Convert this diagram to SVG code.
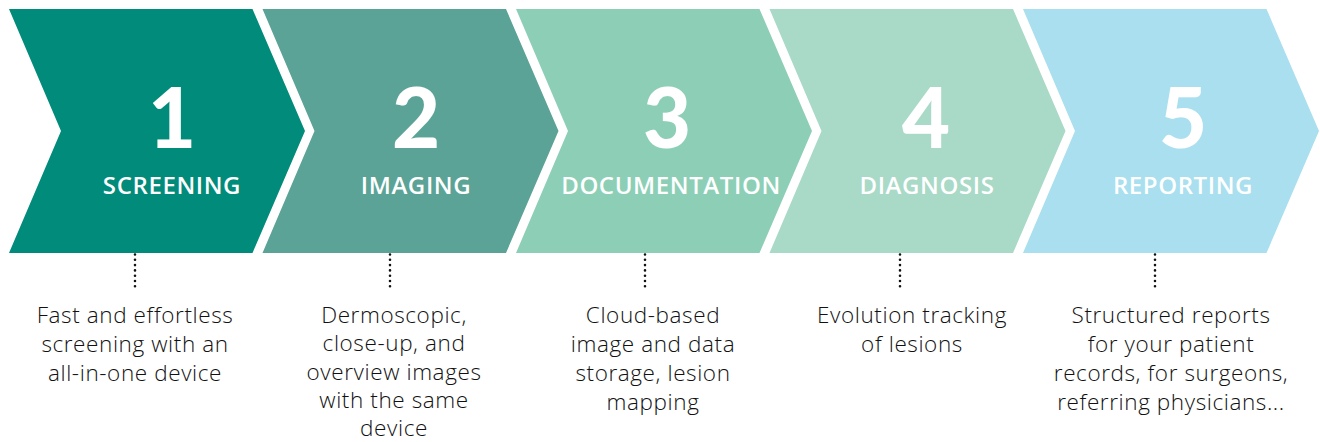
<svg xmlns="http://www.w3.org/2000/svg" width="1320" height="442" viewBox="0 0 1320 442">
<style>
.num{font-family:Lato,"Open Sans",sans-serif;font-weight:900;font-size:83px;fill:#fff;text-anchor:middle}
.lbl{font-family:"Open Sans","Noto Sans",sans-serif;font-weight:600;font-size:24px;letter-spacing:0.6px;fill:#fff;text-anchor:middle}
.desc{font-family:"Open Sans","Noto Sans",sans-serif;font-weight:300;font-size:22.5px;letter-spacing:0.6px;fill:#111;text-anchor:middle}
.dot{stroke:#111;stroke-width:2.6;stroke-linecap:round;stroke-dasharray:0 5.3;fill:none}
</style>
<defs>
<path id="chev" d="M0,9 L243.5,9 L296,131 L243.5,253 L0,253 L52,131 Z"/>
</defs>
<rect width="1320" height="442" fill="#fff"/>
<g id="step1">
<use href="#chev" x="9" fill="#008B7A"/>
<text class="num" x="172" y="148">1</text>
<text class="lbl" x="172" y="194">SCREENING</text>
<text class="desc" x="135"><tspan x="135" y="322.5">Fast and effortless</tspan><tspan x="135" y="351.5">screening with an</tspan><tspan x="135" y="380.5">all-in-one device</tspan></text>
</g>
<g id="step2">
<use href="#chev" x="262.5" fill="#5AA396"/>
<text class="num" x="416" y="148">2</text>
<text class="lbl" x="416" y="194">IMAGING</text>
<text class="desc"><tspan x="394" y="322.5">Dermoscopic,</tspan><tspan x="394" y="351">close-up, and</tspan><tspan x="394" y="379.5">overview images</tspan><tspan x="394" y="408">with the same</tspan><tspan x="394" y="436">device</tspan></text>
</g>
<g id="step3">
<use href="#chev" x="516" fill="#8CCFB6"/>
<text class="num" x="667" y="148">3</text>
<text class="lbl" x="671" y="194">DOCUMENTATION</text>
<text class="desc"><tspan x="653" y="322.5">Cloud-based</tspan><tspan x="653" y="351.5">image and data</tspan><tspan x="653" y="380.5">storage, lesion</tspan><tspan x="653" y="409.5">mapping</tspan></text>
</g>
<g id="step4">
<use href="#chev" x="769.5" fill="#A9D9C7"/>
<text class="num" x="926" y="148">4</text>
<text class="lbl" x="927" y="194">DIAGNOSIS</text>
<text class="desc"><tspan x="912" y="322.5">Evolution tracking</tspan><tspan x="912" y="351.5">of lesions</tspan></text>
</g>
<g id="step5">
<use href="#chev" x="1023" fill="#A9DFEE"/>
<text class="num" x="1183" y="148">5</text>
<text class="lbl" x="1183" y="194">REPORTING</text>
<text class="desc"><tspan x="1171" y="322.5">Structured reports</tspan><tspan x="1171" y="351.5">for your patient</tspan><tspan x="1171" y="380.5">records, for surgeons,</tspan><tspan x="1171" y="409.5">referring physicians...</tspan></text>
</g>
<g id="connectors">
<line class="dot" x1="135" y1="254.5" x2="135" y2="290"/>
<line class="dot" x1="390" y1="254.5" x2="390" y2="290"/>
<line class="dot" x1="645" y1="254.5" x2="645" y2="290"/>
<line class="dot" x1="900" y1="254.5" x2="900" y2="290"/>
<line class="dot" x1="1155" y1="254.5" x2="1155" y2="290"/>
</g>
</svg>
